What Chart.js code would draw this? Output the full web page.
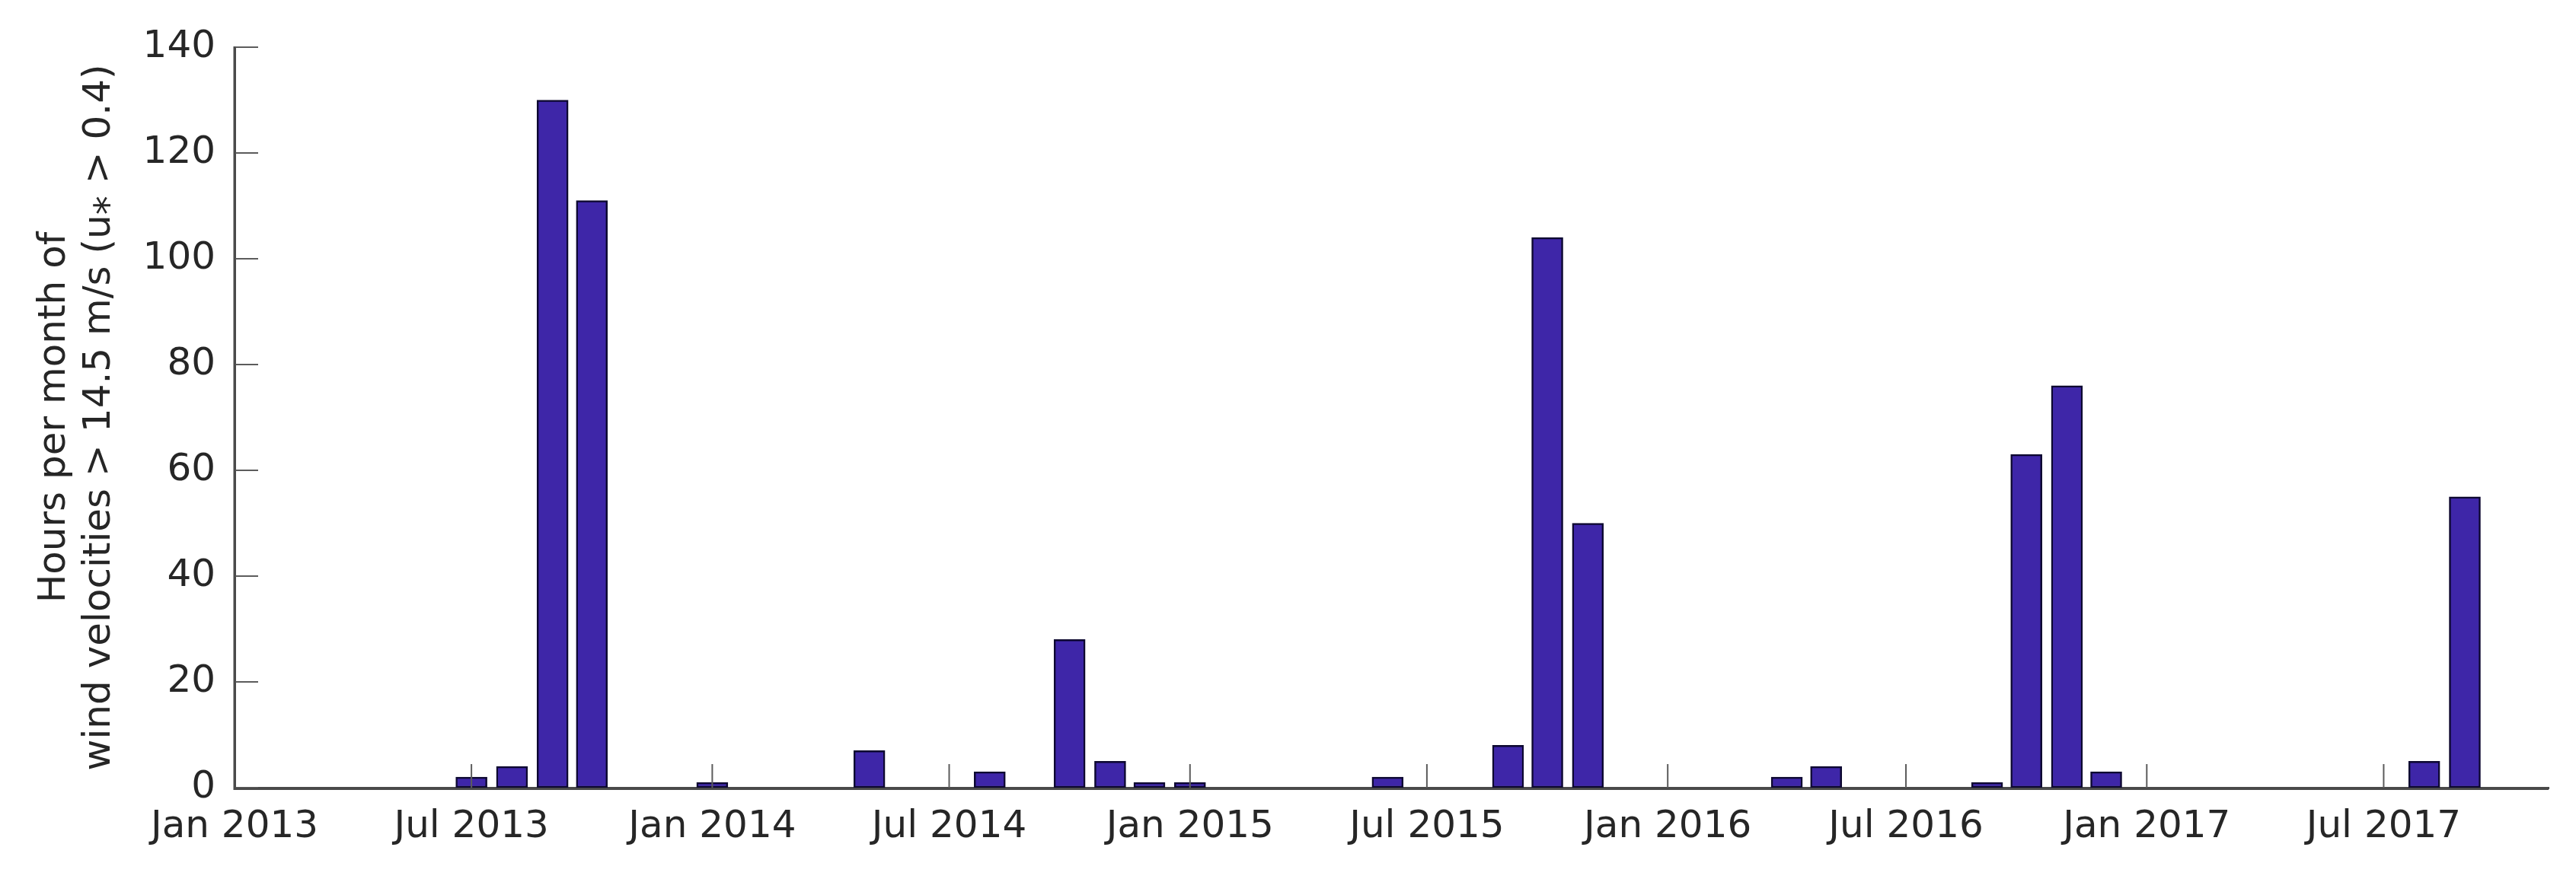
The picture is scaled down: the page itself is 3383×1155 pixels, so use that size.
<!DOCTYPE html>
<html>
<head>
<meta charset="utf-8">
<script src="https://cdn.jsdelivr.net/npm/chart.js@4/dist/chart.umd.min.js"></script>
<style>
  html, body { margin: 0; padding: 0; background: #fff; }
  #wrap { width: 3383px; height: 1155px; }
</style>
</head>
<body>
<div id="wrap"><canvas id="myChart" width="3383" height="1155"></canvas></div>
<script>
// months that have hours > 0 (all other months are zero)
var months = ["2013-07", "2013-08", "2013-09", "2013-10", "2014-01", "2014-05", "2014-08",
              "2014-10", "2014-11", "2014-12", "2015-01", "2015-06", "2015-09", "2015-10",
              "2015-11", "2016-04", "2016-05", "2016-09", "2016-10", "2016-11", "2016-12",
              "2017-08", "2017-09"];
var hours = [2, 4, 130, 111, 1, 7, 3,
             28, 5, 1, 1, 2, 8, 104,
             50, 2, 4, 1, 63, 76, 3,
             5, 55];

var tickMonths = ["2013-01", "2013-07", "2014-01", "2014-07", "2015-01",
                  "2015-07", "2016-01", "2016-07", "2017-01", "2017-07"];
var tickLabels = ["Jan 2013", "Jul 2013", "Jan 2014", "Jul 2014", "Jan 2015",
                  "Jul 2015", "Jan 2016", "Jul 2016", "Jan 2017", "Jul 2017"];
var yTicks = [0, 20, 40, 60, 80, 100, 120, 140];

var xStart = "2013-01-01";
var xEnd = "2017-11-04";

var yTitle = ["Hours per month of", "wind velocities > 14.5 m/s (u\u204E > 0.4)"];

// days since xStart, so bars sit on real month starts
var toDays = function (str) {
  var p = str.split("-");
  var d = Date.UTC(parseInt(p[0]), parseInt(p[1]) - 1, p[2] ? parseInt(p[2]) : 1);
  var s = xStart.split("-");
  return (d - Date.UTC(parseInt(s[0]), parseInt(s[1]) - 1, parseInt(s[2]))) / 86400000;
};

var axisColor = "#4a4a4a";
var textColor = "#262626";
var fontFamily = "'DejaVu Sans', sans-serif";

// MATLAB style ticks pointing into the plot
var inwardTicks = {
  id: "inwardTicks",
  afterDatasetsDraw: function (chart) {
    var ctx = chart.ctx;
    var area = chart.chartArea;
    var len = 31;
    ctx.save();
    ctx.strokeStyle = "#5c5c5c";
    ctx.lineWidth = 2;
    ctx.beginPath();
    chart.scales.x.ticks.forEach(function (t) {
      var px = chart.scales.x.getPixelForValue(t.value);
      ctx.moveTo(px, area.bottom);
      ctx.lineTo(px, area.bottom - len);
    });
    chart.scales.y.ticks.forEach(function (t) {
      var py = chart.scales.y.getPixelForValue(t.value);
      ctx.moveTo(area.left, py);
      ctx.lineTo(area.left + len, py);
    });
    ctx.stroke();
    // axis lines over the bars
    ctx.strokeStyle = axisColor;
    ctx.lineWidth = 3;
    ctx.beginPath();
    ctx.moveTo(area.left, area.top - 1);
    ctx.lineTo(area.left, area.bottom + 1.5);
    ctx.lineTo(area.right, area.bottom + 1.5);
    ctx.stroke();
    ctx.restore();
  }
};

var points = [];
for (var i = 0; i < months.length; i++) {
  points.push({ x: toDays(months[i]), y: hours[i] });
}
var tickDays = tickMonths.map(toDays);

var ctx = document.getElementById("myChart");
var myChart = new Chart(ctx, {
  type: "bar",
  data: {
    datasets: [{
      data: points,
      backgroundColor: "#3E26A8",
      borderColor: "#0d0830",
      borderWidth: 2.5,
      borderSkipped: false,
      barThickness: 41
    }]
  },
  options: {
    responsive: false,
    animation: false,
    devicePixelRatio: 1,
    layout: { padding: { left: 0, right: 36, top: 62, bottom: 0 } },
    plugins: { legend: { display: false }, tooltip: { enabled: false } },
    scales: {
      x: {
        type: "linear",
        offset: false,
        min: toDays(xStart),
        max: toDays(xEnd),
        grid: { display: false, drawTicks: false },
        border: { display: true, color: axisColor, width: 3 },
        afterBuildTicks: function (scale) {
          scale.ticks = tickDays.map(function (v) { return { value: v }; });
        },
        afterFit: function (scale) { scale.height = 120; },
        ticks: {
          autoSkip: false,
          maxRotation: 0,
          padding: 22,
          color: textColor,
          font: { family: fontFamily, size: 50 },
          callback: function (value) {
            var k = tickDays.indexOf(value);
            return k >= 0 ? tickLabels[k] : "";
          }
        }
      },
      y: {
        min: yTicks[0],
        max: yTicks[yTicks.length - 1],
        grid: { display: false, drawTicks: false },
        border: { display: true, color: axisColor, width: 3 },
        afterBuildTicks: function (scale) {
          scale.ticks = yTicks.map(function (v) { return { value: v }; });
        },
        afterFit: function (scale) { scale.width = 308; },
        ticks: {
          padding: 25,
          color: textColor,
          font: { family: fontFamily, size: 50 }
        },
        title: {
          display: true,
          text: yTitle,
          color: textColor,
          padding: { top: 43, bottom: 0 },
          font: { family: fontFamily, size: 50, lineHeight: 1.18 }
        }
      }
    }
  },
  plugins: [inwardTicks]
});
</script>
</body>
</html>
